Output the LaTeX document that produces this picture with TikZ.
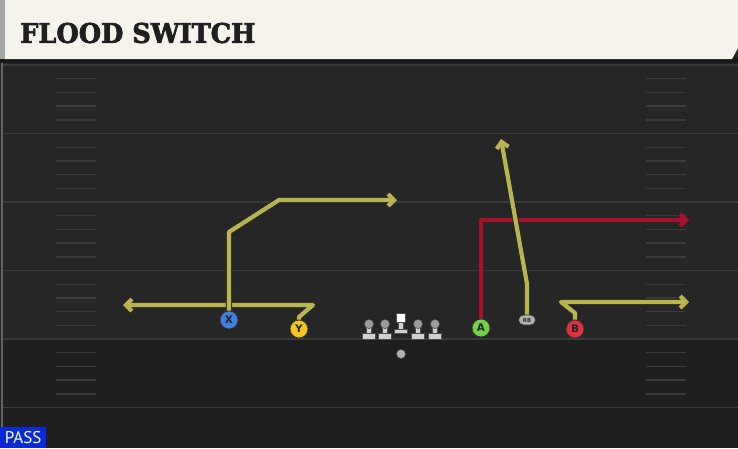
\documentclass[tikz,border=0pt]{standalone}
\usepackage{fontspec}
\usetikzlibrary{arrows.meta,shapes.misc}
\newfontfamily\titlefont[FakeBold=2.5,FakeStretch=0.95]{DejaVu Serif}
\newfontfamily\passfont{PT Sans}
\newfontfamily\lblfont{DejaVu Sans}
\definecolor{field}{HTML}{262626}
\definecolor{fielddark}{HTML}{1F1F1F}
\definecolor{yardc}{HTML}{3A3A3A}
\definecolor{hashc}{HTML}{3C3C3C}
\definecolor{cream}{HTML}{F5F3EC}
\definecolor{stripc}{HTML}{A4A8A4}
\definecolor{routey}{HTML}{B8B550}
\definecolor{router}{HTML}{A8102C}
\definecolor{xblue}{HTML}{3F7FE0}
\definecolor{yyel}{HTML}{F2C61F}
\definecolor{agreen}{HTML}{72D24A}
\definecolor{bred}{HTML}{E0303E}
\definecolor{passblue}{HTML}{0A2AD8}
\definecolor{lmhead}{HTML}{9C9C9C}
\definecolor{lmbody}{HTML}{D0D0D0}
\tikzset{
  yard/.style={draw=yardc, line width=1.8pt},
  hashm/.style={draw=hashc, line width=1.4pt},
  route/.style={line width=4.2pt, line join=round, -{Straight Barb[length=6pt,width=12pt]},
    preaction={draw=black!85, line width=6.2pt}},
  yroute/.style={route, draw=routey},
  rroute/.style={route, draw=router},
  player/.style={circle, minimum size=18pt, inner sep=0pt, draw=black!80, line width=0.8pt,
    font=\lblfont\bfseries\fontsize{10.5}{10.5}\selectfont, text=black!85},
  rbstyle/.style={rounded rectangle, minimum width=17pt, minimum height=10pt, inner sep=0pt,
    fill=lmbody!85!black, draw=black!80, line width=0.6pt, font=\lblfont\bfseries\fontsize{5.5}{5.5}\selectfont, text=black!80},
  lman/.pic={
    \filldraw[fill=lmbody, draw=black!70, line width=0.5pt] (-2.3,0) rectangle (2.3,9) (-6.5,9) rectangle (6.5,15);
    \filldraw[fill=lmhead, draw=black!70, line width=0.5pt] (0,0) circle (4.6);
  },
  cman/.pic={
    \filldraw[fill=lmbody, draw=black!70, line width=0.5pt] (-2.3,0) rectangle (2.3,7) (-6.5,7) rectangle (6.5,11.5);
    \filldraw[fill=white, draw=black!70, line width=0.5pt] (-4.5,-9) rectangle (4.5,0);
  }
}
\begin{document}
\begin{tikzpicture}[x=1pt,y=-1pt]
\useasboundingbox (0,0) rectangle (738,448);
% field
\fill[field] (0,0) rectangle (738,448);
\fill[fielddark] (0,340) rectangle (738,448);
\draw[draw=stripc!60!black, line width=1.2pt] (2,62) -- (2,448);
\foreach \y in {65,133.5,202,270.5,339,407.5}
  \draw[yard] (3,\y) -- (738,\y);
\foreach \y in {65,133.5,202,270.5,339}
  \foreach \k in {1,2,3,4} {
    \draw[hashm] (56,\y+\k*13.7) -- (96,\y+\k*13.7);
    \draw[hashm] (646,\y+\k*13.7) -- (686,\y+\k*13.7);
  }
% header
\fill[black!90] (0,58) rectangle (738,62.5);
\fill[cream] (5,0) -- (738,0) -- (738,48) -- (732,59) -- (5,59) -- cycle;
\fill[stripc] (0,0) rectangle (5,59);
\node[anchor=west, inner sep=0pt, text=black!88, font=\titlefont\bfseries\fontsize{27}{27}\selectfont] (title) at (20,33) {FLOOD SWITCH};
% line
\pic at (369,324) {lman};
\pic at (385,324) {lman};
\pic at (401,322) {cman};
\pic at (418,324) {lman};
\pic at (435,324) {lman};
\node[circle, fill=lmhead!80, draw=black!70, line width=0.4pt, minimum size=9pt, inner sep=0pt] (qb) at (401,354) {};
% players
\node[player, fill=xblue] (X) at (229,320) {X};
\node[player, fill=yyel] (Y) at (299,329) {Y};
\node[player, fill=agreen] (A) at (481,328) {A};
\node[player, fill=bred] (B) at (575,329) {B};
\node[rbstyle] (RB) at (527,320) {RB};
% route end points
\coordinate (xc1) at (229,232);
\coordinate (xc2) at (279,200);
\coordinate (xend) at (397,200);
\coordinate (yc1) at (299,317);
\coordinate (yc2) at (313,305);
\coordinate (yend) at (123,305);
\coordinate (ac1) at (481,220);
\coordinate (aend) at (689,220);
\coordinate (rbc1) at (527,284);
\coordinate (rbend) at (501,139);
\coordinate (bc1) at (575,313);
\coordinate (bc2) at (561,302);
\coordinate (bend) at (689,302);
% routes
\draw[yroute] (Y.north) -- (yc1) -- (yc2) -- (yend);
\draw[yroute] (X.north) -- (xc1) -- (xc2) -- (xend);
\draw[rroute] (A.north) -- (ac1) -- (aend);
\draw[yroute] (RB.north) -- (rbc1) -- (rbend);
\draw[yroute] (B.north) -- (bc1) -- (bc2) -- (bend);
% pass tag
\node[anchor=south west, fill=passblue, text=white, inner sep=0pt, minimum width=46pt, minimum height=21pt,
  font=\passfont\fontsize{17}{17}\selectfont] (pass) at (0,448) {PASS};
\end{tikzpicture}
\end{document}
